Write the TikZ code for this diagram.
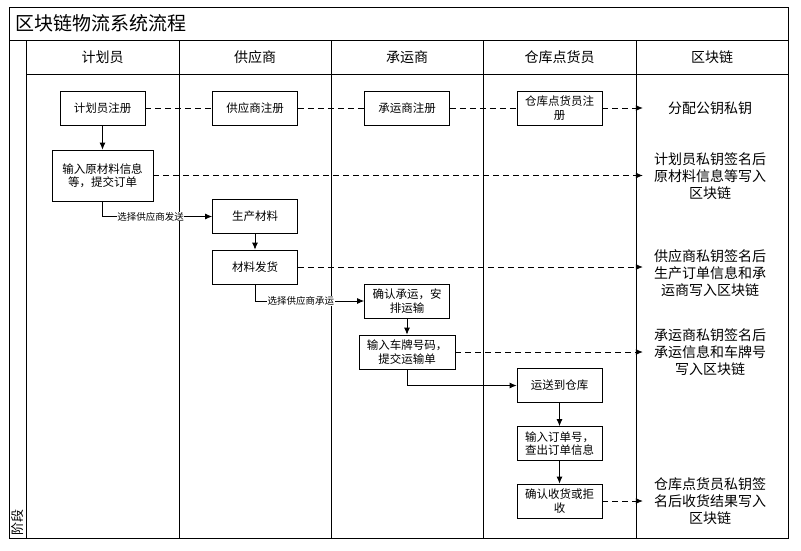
\documentclass[tikz,border=0pt]{standalone}
\usepackage{fontspec}
\newfontfamily\cjk{Noto Sans CJK SC}
\usetikzlibrary{arrows.meta}

\begin{document}
\begin{tikzpicture}[x=1pt,y=-1pt,
  box/.style={draw,line width=0.8pt,minimum width=85pt,minimum height=34pt,align=center,inner sep=2pt,font=\cjk\fontsize{11.5}{13.5}\selectfont},
  chain/.style={align=center,text width=130pt,inner sep=2pt,font=\cjk\fontsize{14}{17}\selectfont},
  lane/.style={font=\cjk\fontsize{14}{16}\selectfont},
  flow/.style={line width=0.8pt,-{Latex[length=7pt,width=6pt]}},
  sign/.style={line width=0.8pt,dash pattern=on 6pt off 4pt},
  signto/.style={sign,-{Latex[length=7pt,width=6pt]}},
  pick/.style={fill=white,inner sep=0.5pt,font=\cjk\fontsize{9.5}{10}\selectfont}]

\useasboundingbox (0,0) rectangle (801,550);
% frame of the lanes
\draw[line width=1pt] (9,7) rectangle (788,538);
\draw[line width=1pt] (9,40) -- (788,40) (26,40) -- (26,538) (26,74) -- (788,74);
\foreach \x in {179,331,483,636} \draw[line width=1pt] (\x,40) -- (\x,538);
\node[anchor=west,font=\cjk\fontsize{19}{20}\selectfont] (title) at (12,23.5) {区块链物流系统流程};
\foreach \i/\cx/\lab in {1/102.5/计划员,2/255/供应商,3/407/承运商,4/559.5/仓库点货员,5/712/区块链}
  \node[lane] (head\i) at (\cx,57) {\lab};
\node[rotate=90,anchor=west,inner sep=1pt,font=\cjk\fontsize{13}{13}\selectfont] (stage) at (17.5,537) {阶段};

% registration
\node[box] (plan1) at (102.5,108) {计划员注册};
\node[box] (supp1) at (255,108) {供应商注册};
\node[box] (carr1) at (407,108) {承运商注册};
\node[box] (ware1) at (559.5,108) {仓库点货员注\\册};
\node[chain] (key) at (710,108) {分配公钥私钥};

% orders and shipping
\node[box,minimum width=101pt,minimum height=51pt] (plan2) at (102.5,175.5) {输入原材料信息\\等，提交订单};
\node[box] (supp2) at (255,216.5) {生产材料};
\node[box] (supp3) at (255,267) {材料发货};
\node[box] (carr2) at (407,301) {确认承运，安\\排运输};
\node[box,minimum width=96pt] (carr3) at (407,352) {输入车牌号码，\\提交运输单};
\node[box] (ware2) at (559.5,385.5) {运送到仓库};
\node[box] (ware3) at (559.5,443.5) {输入订单号，\\查出订单信息};
\node[box] (ware4) at (559.5,501) {确认收货或拒\\收};

% records on the chain
\node[chain] (rec1) at (710,176) {计划员私钥签名后\\原材料信息等写入\\区块链};
\node[chain] (rec2) at (710,273) {供应商私钥签名后\\生产订单信息和承\\运商写入区块链};
\node[chain] (rec3) at (710,352) {承运商私钥签名后\\承运信息和车牌号\\写入区块链};
\node[chain] (rec4) at (710,501) {仓库点货员私钥签\\名后收货结果写入\\区块链};

\draw[sign] (plan1) -- (supp1);
\draw[sign] (supp1) -- (carr1);
\draw[sign] (carr1) -- (ware1);
\draw[signto] (ware1) -- (key);
\draw[signto] (plan2.east) -- (plan2.east -| rec1.west);
\draw[signto] (supp3.east) -- (supp3.east -| rec2.west);
\draw[signto] (carr3.east) -- (carr3.east -| rec3.west);
\draw[signto] (ware4.east) -- (ware4.east -| rec4.west);

\draw[flow] (plan1) -- (plan2);
\draw[flow] (plan2) |- node[pick,pos=0.72] {选择供应商发送} (supp2);
\draw[flow] (supp2) -- (supp3);
\draw[flow] (supp3) |- node[pick,pos=0.71] {选择供应商承运} (carr2);
\draw[flow] (carr2) -- (carr3);
\draw[flow] (carr3) |- (ware2);
\draw[flow] (ware2) -- (ware3);
\draw[flow] (ware3) -- (ware4);
\end{tikzpicture}
\end{document}
